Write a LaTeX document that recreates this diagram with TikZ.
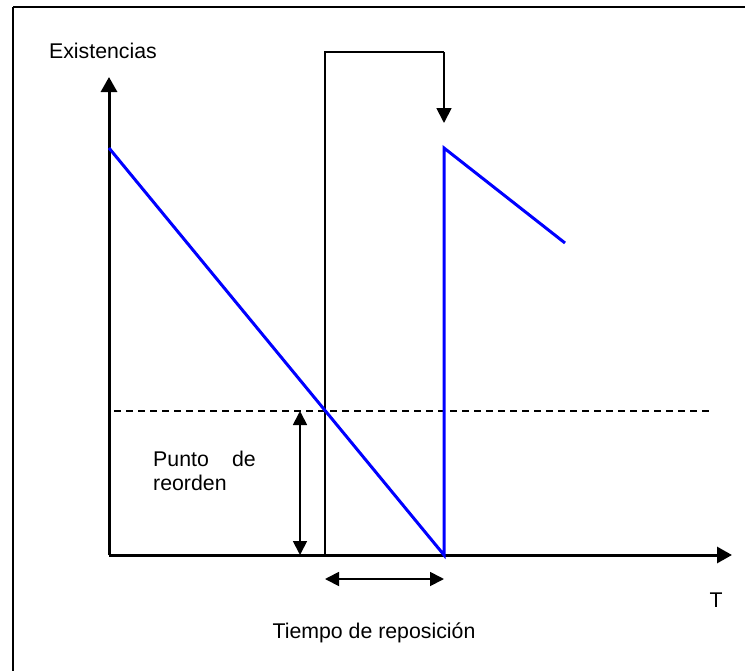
\documentclass[tikz,border=0pt]{standalone}
\usepackage{fontspec}
\setmainfont{Liberation Sans}
\usetikzlibrary{arrows.meta}
\begin{document}
\begin{tikzpicture}[x=1pt,y=-1pt,
  axis/.style={line width=3pt,-{Triangle[length=15pt,width=16pt]}},
  thin/.style={line width=1.8pt},
  darrow/.style={line width=1.8pt,{Triangle[length=14pt,width=14pt]}-{Triangle[length=14pt,width=14pt]}},
  stock/.style={line width=3pt,blue,line join=miter},
  lbl/.style={font=\fontsize{21.3}{24}\selectfont,inner sep=0pt}]
\useasboundingbox (0,0) rectangle (745,670);
\draw[line width=2pt] (13,7) -- (760,7) (13,7) -- (13,690);
% coordinates
\coordinate (O) at (109,555);
\coordinate (Ytop) at (109,77);
\coordinate (Xend) at (732,555);
\coordinate (S0) at (109,148);
\coordinate (Z) at (444,555);
\coordinate (S1) at (444,148);
\coordinate (S2) at (565,243);
\coordinate (R) at (325,555);
\coordinate (Rtop) at (325,52);
\coordinate (Dtop) at (444,52);
\coordinate (Dtip) at (444,123);
\coordinate (DL) at (114,411);
\coordinate (DR) at (710,411);
\coordinate (PA) at (300,411);
\coordinate (PB) at (300,555);
\coordinate (TA) at (325,579);
\coordinate (TB) at (444,579);
% axes
\draw[axis] (O) -- (Ytop);
\draw[axis] (O) -- (Xend);
% dashed reorder level
\draw[line width=1.5pt,dash pattern=on 7pt off 5pt] (DL) -- (DR);
% order line
\draw[thin] (R) -- (Rtop) -- (Dtop);
\draw[thin,-{Triangle[length=15pt,width=15pt]}] (Dtop) -- (Dtip);
% stock
\draw[stock] (S0) -- (Z) -- (S1) -- (S2);
% double arrows
\draw[darrow] (PA) -- (PB);
\draw[darrow] (TA) -- (TB);
% labels
\node[lbl] (ex) at (103,51) {Existencias};
\node[lbl,anchor=base west] (p1) at (153,466) {Punto};
\node[lbl,anchor=base east] (p2) at (256,466) {de};
\node[lbl,anchor=base west] (p3) at (153,490) {reorden};
\node[lbl] (t) at (716,600) {T};
\node[lbl] (tr) at (374,633) {Tiempo de reposición};
\end{tikzpicture}
\end{document}
